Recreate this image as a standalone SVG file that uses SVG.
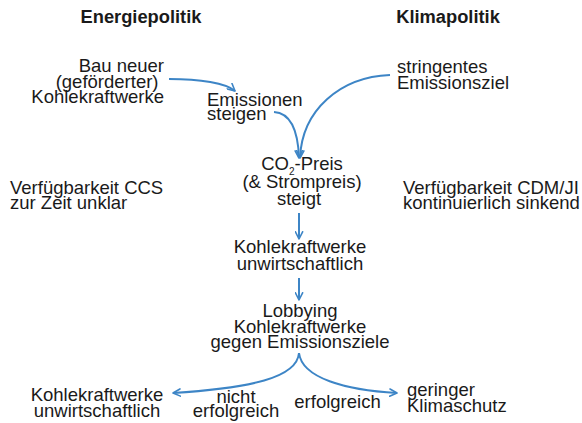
<svg xmlns="http://www.w3.org/2000/svg" width="582" height="423" viewBox="0 0 582 423">
<style>
text{font-family:"Liberation Sans",Arial,Helvetica,sans-serif;font-size:18.5px;fill:#1a1a1a}
.h{font-weight:bold;font-size:18.3px}
.m{text-anchor:middle}
.e{text-anchor:end}
.c{fill:none;stroke:#3d85c6;stroke-width:2;marker-end:url(#ah)}
</style>
<defs>
<marker id="ah" viewBox="0 0 10 10" refX="9" refY="5" markerWidth="9" markerHeight="9" orient="auto" markerUnits="userSpaceOnUse">
<path d="M1,1 L9,5 L1,9" fill="none" stroke="#3d85c6" stroke-width="1.8" stroke-linecap="round" stroke-linejoin="round"/>
</marker>
</defs>
<rect width="582" height="423" fill="#fff"/>
<g id="titles">
<text class="h m" x="141" y="23">Energiepolitik</text>
<text class="h m" x="448" y="23">Klimapolitik</text>
</g>
<g id="bau">
<text class="e" x="164" y="72">Bau neuer</text>
<text class="e" x="158.5" y="87.5">(geförderter)</text>
<text class="e" x="164" y="103">Kohlekraftwerke</text>
</g>
<g id="emissionen">
<text x="207" y="106">Emissionen</text>
<text x="207" y="120">steigen</text>
</g>
<g id="ziel">
<text x="397" y="73">stringentes</text>
<text x="397" y="89">Emissionsziel</text>
</g>
<g id="ccs">
<text x="10" y="194">Verfügbarkeit CCS</text>
<text x="10" y="209">zur Zeit unklar</text>
</g>
<g id="cdm">
<text x="403" y="194">Verfügbarkeit CDM/JI</text>
<text x="403" y="209">kontinuierlich sinkend</text>
</g>
<g id="preis">
<text class="m" x="302" y="170">CO<tspan font-size="10" dy="5">2</tspan><tspan dy="-5">-Preis</tspan></text>
<text class="m" x="302" y="188">(&amp; Strompreis)</text>
<text class="m" x="299" y="205">steigt</text>
</g>
<g id="unwirt">
<text class="m" x="300" y="253">Kohlekraftwerke</text>
<text class="m" x="300" y="270">unwirtschaftlich</text>
</g>
<g id="lobby">
<text class="m" x="300" y="317">Lobbying</text>
<text class="m" x="300" y="333">Kohlekraftwerke</text>
<text class="m" x="300" y="348">gegen Emissionsziele</text>
</g>
<g id="unwirt2">
<text class="m" x="97" y="401">Kohlekraftwerke</text>
<text class="m" x="97" y="417">unwirtschaftlich</text>
</g>
<g id="klimaschutz">
<text x="407" y="396">geringer</text>
<text x="407" y="412">Klimaschutz</text>
</g>
<g id="labels">
<text class="m" x="236" y="403">nicht</text>
<text class="m" x="236" y="417">erfolgreich</text>
<text class="m" x="337.5" y="408">erfolgreich</text>
</g>
<g id="connectors">
<path class="c" d="M169,79 C200,79 226,83 235,91"/>
<path class="c" d="M274,112 C290,113 298,130 299,158"/>
<path class="c" d="M390,75 C340,77 302,110 300,158"/>
<path class="c" d="M299,213 L299,239"/>
<path class="c" d="M299,278 L299,300"/>
<path class="c" d="M299,353 C297,378 250,388 173,393"/>
<path class="c" d="M299,353 C302,378 345,390 397,393"/>
</g>
</svg>
